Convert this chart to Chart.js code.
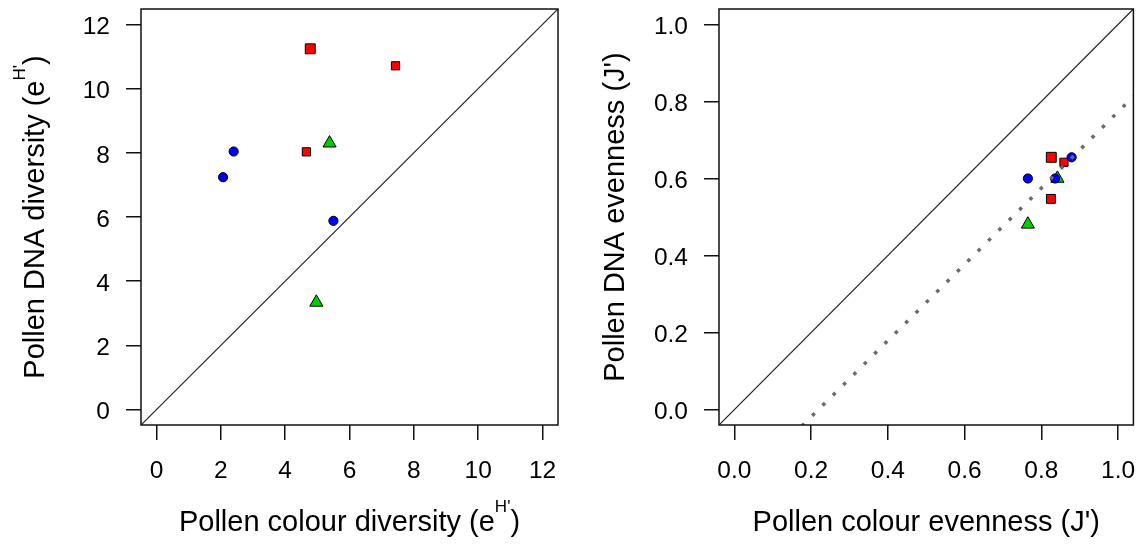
<!DOCTYPE html>
<html>
<head>
<meta charset="utf-8">
<script src="https://cdn.jsdelivr.net/npm/chart.js@4.4.0/dist/chart.umd.min.js"></script>
<style>
  body { margin: 0; background: #fff; }
  #wrap { position: relative; width: 1142px; height: 545px; }
  #wrap canvas { position: absolute; top: 0; }
</style>
</head>
<body>
<div id="wrap">
  <canvas id="divChart" width="571" height="545" style="left:0"></canvas>
  <canvas id="evenChart" width="571" height="545" style="left:571px"></canvas>
</div>
<script>
// left panel: diversity (e^H'), colour vs DNA
const divTicks = [0, 2, 4, 6, 8, 10, 12];
const divTickLabels = ['0', '2', '4', '6', '8', '10', '12'];
const divRange = [-0.48, 12.48];
const divSquareX = [4.78, 7.43, 4.66];
const divSquareY = [11.24, 10.71, 8.03];
const divTriangleX = [5.38, 4.97];
const divTriangleY = [8.30, 3.34];
const divCircleX = [2.40, 2.07, 5.50];
const divCircleY = [8.04, 7.24, 5.88];

// right panel: evenness (J')
const evenTicks = [0, 0.2, 0.4, 0.6, 0.8, 1.0];
const evenTickLabels = ['0.0', '0.2', '0.4', '0.6', '0.8', '1.0'];
const evenRange = [-0.04, 1.04];
const evenSquareX = [0.826, 0.859, 0.825];
const evenSquareY = [0.655, 0.642, 0.547];
const evenTriangleX = [0.842, 0.765];
const evenTriangleY = [0.600, 0.481];
const evenCircleX = [0.879, 0.765, 0.836];
const evenCircleY = [0.655, 0.600, 0.600];
const evenFit = [-0.217, 0.99]; // intercept, slope of dotted line

const FONT = "'Liberation Sans', Arial, sans-serif";

const pts = (xs, ys) => xs.map((x, i) => ({x: x, y: ys[i]}));

// draws text with a superscript part, centred on cx
function richText(ctx, parts, cx, base) {
  let w = 0;
  parts.forEach(p => {
    ctx.font = (p.sup ? '17px ' : '29px ') + FONT;
    p.w = ctx.measureText(p.t).width;
    w += p.w;
  });
  let x = cx - w / 2;
  ctx.textAlign = 'left';
  ctx.textBaseline = 'alphabetic';
  parts.forEach(p => {
    ctx.font = (p.sup ? '17px ' : '29px ') + FONT;
    ctx.fillText(p.t, x, p.sup ? base - 19 : base);
    x += p.w;
  });
}

const frame = {
  id: 'frame',
  afterDatasetsDraw(chart, args, opts) {
    const ctx = chart.ctx, a = chart.chartArea;
    ctx.save();
    ctx.strokeStyle = '#111';
    ctx.lineWidth = 1.5;
    ctx.strokeRect(a.left, a.top, a.right - a.left, a.bottom - a.top);
    ctx.fillStyle = '#000';
    richText(ctx, opts.xTitle, (a.left + a.right) / 2, 531);
    ctx.translate(a.left - opts.yGap, (a.top + a.bottom) / 2);
    ctx.rotate(-Math.PI / 2);
    richText(ctx, opts.yTitle, 0, 0);
    ctx.restore();
  }
};

function axis(range, ticks, labels, horizontal, size) {
  return {
    type: 'linear',
    min: range[0],
    max: range[1],
    border: {display: false},
    grid: {drawOnChartArea: false, drawTicks: true, tickLength: 15, color: '#111', lineWidth: 1.5},
    ticks: {
      color: '#000',
      font: {family: FONT, size: 24.5},
      padding: horizontal ? 17 : 16,
      labelOffset: horizontal ? 0 : 3,
      maxRotation: 0,
      autoSkip: false,
      callback: (v) => labels[ticks.indexOf(v)]
    },
    afterBuildTicks: (s) => { s.ticks = ticks.map(v => ({value: v})); },
    afterFit: (s) => {
      if (horizontal) s.height = 120; else s.width = size;
      s.paddingLeft = 0; s.paddingRight = 0; s.paddingTop = 0; s.paddingBottom = 0;
    }
  };
}

function makeChart(id, range, ticks, labels, sets, yWidth, padRight, xTitle, yTitle, yGap) {
  return new Chart(document.getElementById(id), {
    type: 'scatter',
    data: {datasets: sets},
    options: {
      responsive: false,
      animation: false,
      layout: {padding: {top: 9, right: padRight, left: 0, bottom: 0}},
      plugins: {
        legend: {display: false},
        tooltip: {enabled: false},
        frame: {xTitle: xTitle, yTitle: yTitle, yGap: yGap}
      },
      scales: {
        x: axis(range, ticks, labels, true),
        y: axis(range, ticks, labels, false, yWidth)
      }
    },
    plugins: [frame]
  });
}

function markSets(sqX, sqY, sqR, trX, trY, ciX, ciY) {
  return [
    {data: pts(ciX, ciY), pointStyle: 'circle', pointRadius: 4.6, backgroundColor: '#0000FF',
     borderColor: '#000', borderWidth: 1, order: 2},
    {data: pts(trX, trY), pointStyle: 'triangle', pointRadius: 7.6, backgroundColor: '#00CD00',
     borderColor: '#000', borderWidth: 1, order: 3},
    {data: pts(sqX, sqY), pointStyle: 'rect', pointRadius: sqR, backgroundColor: '#FF0000',
     borderColor: '#000', borderWidth: 1, order: 4}
  ];
}

function oneToOne(range) {
  return {data: [{x: range[0], y: range[0]}, {x: range[1], y: range[1]}], showLine: true,
    pointRadius: 0, borderColor: '#222', borderWidth: 1.2, clip: 0, order: 1};
}

const divSets = markSets(divSquareX, divSquareY, [7, 5.8, 5.8], divTriangleX, divTriangleY, divCircleX, divCircleY);
divSets.push(oneToOne(divRange));

const evenSets = markSets(evenSquareX, evenSquareY, [7, 5.8, 6.3], evenTriangleX, evenTriangleY, evenCircleX, evenCircleY);
evenSets.push(oneToOne(evenRange));
evenSets.push({
  data: evenRange.map(x => ({x: x, y: evenFit[0] + evenFit[1] * x})),
  showLine: true, pointRadius: 0, borderColor: '#6b6b6b', borderWidth: 3.5,
  borderDash: [3.5, 11.1], clip: 0, order: 0
});

makeChart('divChart', divRange, divTicks, divTickLabels, divSets, 141, 13,
  [{t: 'Pollen colour diversity (e'}, {t: "H'", sup: true}, {t: ')'}],
  [{t: 'Pollen DNA diversity (e'}, {t: "H'", sup: true}, {t: ')'}], 97);

makeChart('evenChart', evenRange, evenTicks, evenTickLabels, evenSets, 148, 6,
  [{t: "Pollen colour evenness (J')"}],
  [{t: "Pollen DNA evenness (J')"}], 95);
</script>
</body>
</html>
